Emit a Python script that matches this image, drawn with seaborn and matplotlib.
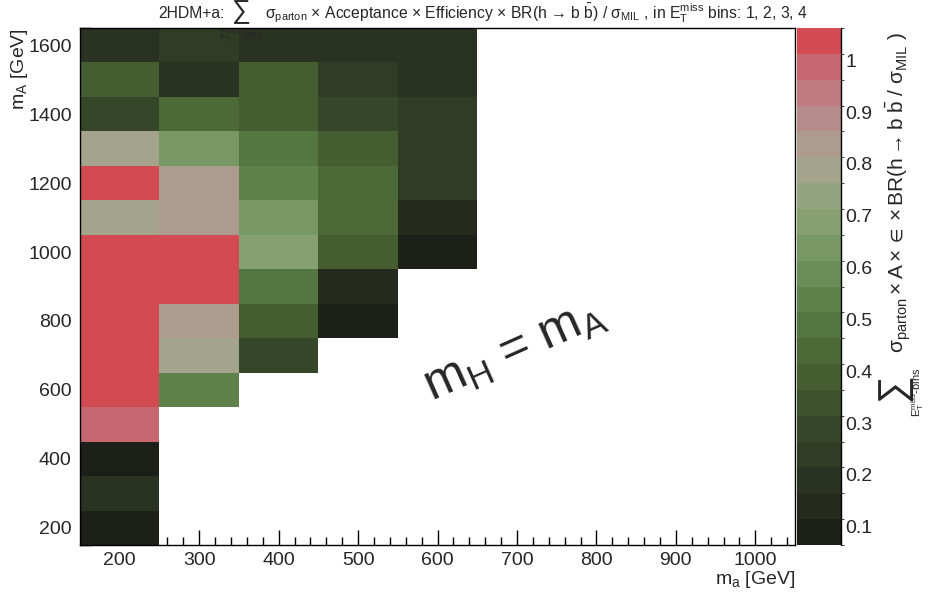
import numpy as np
import pandas as pd
import matplotlib
matplotlib.use("Agg")
import matplotlib.pyplot as plt
from matplotlib.colors import ListedColormap, BoundaryNorm
from matplotlib.ticker import FormatStrFormatter
import seaborn as sns

# ---------------------------------------------------------------- data
# bin centres in GeV (bins are 100 GeV wide)
ma_centres = [200, 300, 400, 500, 600, 700, 800, 900, 1000]
mA_centres = [200, 300, 400, 500, 600, 700, 800, 900, 1000,
              1100, 1200, 1300, 1400, 1500, 1600]

# summed sigma x A x eff x BR / sigma_MIL, listed upward in m_A
ratio_ma200 = [0.09, 0.17, 0.09, 0.99, 1.04, 1.04, 1.04, 1.04, 1.04,
               0.79, 1.04, 0.78, 0.31, 0.39, 0.18]          # m_A 200-1600
ratio_ma300 = [0.53, 0.79, 0.82, 1.04, 1.04, 0.86, 0.83, 0.64,
               0.44, 0.18, 0.24]                            # m_A 600-1600
ratio_ma400 = [0.29, 0.37, 0.49, 0.70, 0.64, 0.54, 0.49, 0.38,
               0.38, 0.18]                                  # m_A 700-1600
ratio_ma500 = [0.09, 0.16, 0.37, 0.44, 0.44, 0.39, 0.29, 0.24,
               0.18]                                        # m_A 800-1600
ratio_ma600 = [0.09, 0.16, 0.24, 0.24, 0.24, 0.19, 0.18]   # m_A 1000-1600

columns = {200: (200, ratio_ma200), 300: (600, ratio_ma300),
           400: (700, ratio_ma400), 500: (800, ratio_ma500),
           600: (1000, ratio_ma600)}

cbar_ticks = [0.1, 0.2, 0.3, 0.4, 0.5, 0.6, 0.7, 0.8, 0.9, 1.0]
x_tick_values = [200, 300, 400, 500, 600, 700, 800, 900, 1000]
y_tick_values = [200, 400, 600, 800, 1000, 1200, 1400, 1600]

# 20-step palette, dark green -> light green -> grey -> red
band_colours = ["#1c2019", "#252a1d", "#2a3221", "#313c25", "#364629",
                "#3d522d", "#445e32", "#4b6a38", "#547640", "#5e8249",
                "#6a8e57", "#779864", "#86a072", "#95a480", "#a4a38b",
                "#ad9b8e", "#b68c8a", "#be7b80", "#c76870", "#d24a52"]
z_min, z_max = 0.065, 1.062

# ---------------------------------------------------------------- grid
grid = pd.DataFrame(np.nan, index=mA_centres, columns=ma_centres)
for ma, (start, vals) in columns.items():
    for k, v in enumerate(vals):
        grid.loc[start + 100 * k, ma] = v

# ---------------------------------------------------------------- style
sns.set_style("ticks")
plt.rcParams["font.family"] = ["Liberation Sans", "DejaVu Sans"]
plt.rcParams["mathtext.fontset"] = "custom"
plt.rcParams["mathtext.rm"] = "Liberation Sans"
plt.rcParams["mathtext.it"] = "Liberation Sans"
plt.rcParams["mathtext.bf"] = "Liberation Sans:bold"
plt.rcParams["mathtext.default"] = "regular"

W, H = 932, 592
fig = plt.figure(figsize=(W / 100, H / 100), dpi=100)
ax = fig.add_axes([80 / W, 1 - 545 / H, 715 / W, 517 / H])
cax = fig.add_axes([797 / W, 1 - 545 / H, 44 / W, 517 / H])

cmap = ListedColormap(band_colours)
norm = BoundaryNorm(np.linspace(z_min, z_max, len(band_colours) + 1), cmap.N)

sns.heatmap(grid, ax=ax, cbar_ax=cax, cmap=cmap, norm=norm,
            xticklabels=False, yticklabels=False,
            cbar_kws={"ticks": cbar_ticks})
ax.invert_yaxis()
ax.set_facecolor("white")


def to_x(v):
    return (v - 150) / 100.0


def to_y(v):
    return (v - 150) / 100.0


ax.set_xticks([to_x(v) for v in x_tick_values])
ax.set_xticklabels([str(v) for v in x_tick_values], fontsize=14)
ax.set_xticks([to_x(v) for v in range(160, 1050, 20) if v % 100], minor=True)
ax.set_yticks([to_y(v) for v in y_tick_values])
ax.set_yticklabels([str(v) for v in y_tick_values], fontsize=14,
                   rotation=0)
ax.set_yticks([to_y(v) for v in range(150, 1651, 50) if v % 200], minor=True)

for s in ax.spines.values():
    s.set_visible(True)
    s.set_color("black")
    s.set_linewidth(1.0)

ax.tick_params(which="both", direction="in", top=False, right=False,
               color="black", width=1.0)
ax.tick_params(axis="x", which="major", length=11, pad=5)
ax.tick_params(axis="x", which="minor", length=5.5)
ax.tick_params(axis="y", which="major", length=16, pad=6)
ax.tick_params(axis="y", which="minor", length=8)

ax.set_xlabel(r"m$_{a}$ [GeV]", fontsize=14, loc="right", labelpad=0)
ax.set_ylabel(r"m$_{A}$ [GeV]", fontsize=14, loc="top")
ax.yaxis.set_label_coords((30 - 80) / 715, 1.0)

# diagonal annotation
ax.text(to_x(698), to_y(714), r"m$_{H}$ = m$_{A}$", fontsize=36,
        rotation=24, ha="center", va="center")

# colour bar
cbar = ax.collections[0].colorbar
cbar.outline.set_visible(False)
cbar.ax.yaxis.set_major_formatter(FormatStrFormatter("%g"))
cax.tick_params(direction="in", length=17, width=1.0, labelsize=14,
                right=True, left=False, pad=3, color="black")
cax.plot([1, 1], [0, 1], transform=cax.transAxes, color="black",
         lw=1.0, clip_on=False)

# colour-bar title, built from the summation sign and the summand
fig.text(898 / W, 1 - 32 / H,
         r"$\sigma_{parton}\times A\times \in \times BR(h\rightarrow b\ \bar{b}\ /\ \sigma_{MIL}\ )$",
         rotation=90, ha="center", va="top", fontsize=15)
fig.text(893 / W, 1 - 387 / H, "\u2211", rotation=90, ha="center",
         va="center", fontsize=28)
fig.text(918 / W, 1 - 392 / H, r"$E_{T}^{miss}$-bins", rotation=90,
         ha="center", va="center", fontsize=8)

# title, built the same way
fig.text(158 / W, 1 - 18 / H, "2HDM+a:", ha="left", va="baseline",
         fontsize=11.3)
fig.text(241 / W, 1 - 12 / H, "\u2211", ha="center", va="center",
         fontsize=19)
fig.text(241 / W, 1 - 36 / H, r"$E_{T}^{miss}$-bins", ha="center",
         va="center", fontsize=7)
fig.text(265 / W, 1 - 18 / H,
         r"$\sigma_{parton}$ × Acceptance × Efficiency × BR(h → b $\bar{b}$) / "
         r"$\sigma_{MIL}$ , in $E_{T}^{miss}$ bins: 1, 2, 3, 4",
         ha="left", va="baseline", fontsize=11.3)

fig.savefig("out.png", dpi=100)
